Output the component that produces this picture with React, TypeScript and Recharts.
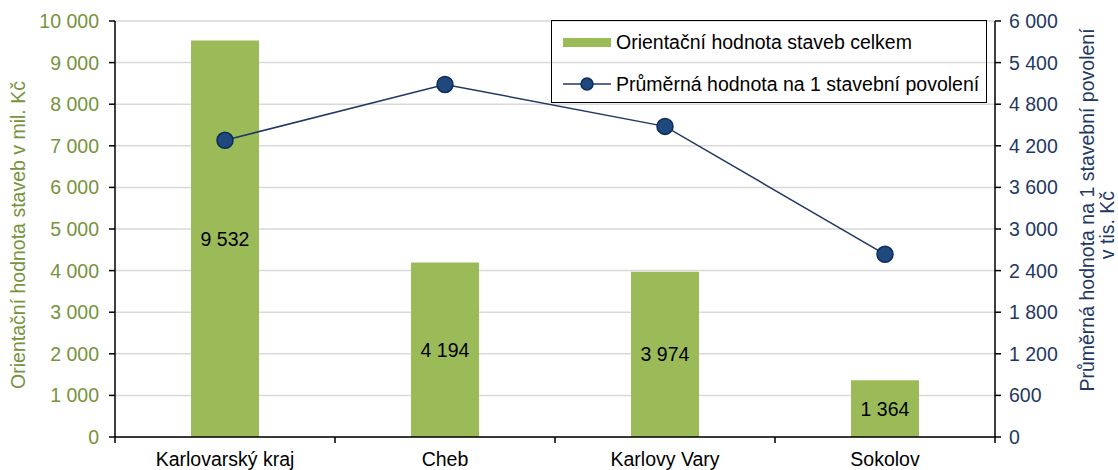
import React from 'react';
import { ComposedChart, Bar, Line, XAxis, YAxis, CartesianGrid, LabelList } from 'recharts';

const categories = ['Karlovarský kraj', 'Cheb', 'Karlovy Vary', 'Sokolov'];
const totalValues = [9532, 4194, 3974, 1364];
const avgValues = [4280, 5085, 4480, 2635];
const leftTicks = [0, 1000, 2000, 3000, 4000, 5000, 6000, 7000, 8000, 9000, 10000];
const rightTicks = [0, 600, 1200, 1800, 2400, 3000, 3600, 4200, 4800, 5400, 6000];

const seriesNames = ['Orientační hodnota staveb celkem', 'Průměrná hodnota na 1 stavební povolení'];
const leftTitle = 'Orientační hodnota staveb v mil. Kč';
const rightTitleLines = ['Průměrná hodnota na 1 stavební povolení', 'v tis. Kč'];

const data = categories.map((c, i) => ({ name: c, total: totalValues[i], avg: avgValues[i] }));

const GREEN = '#9BBB59';
const GREEN_TEXT = '#77933C';
const NAVY = '#1F3864';
const FONT = 'Liberation Sans, Arial, sans-serif';
const FS = 19.5;

const fmt = (v: number) => String(v).replace(/\B(?=(\d{3})+(?!\d))/g, ' ');

const CatTick = (props: any) => {
  const { x, y, payload, index, visibleTicksCount } = props;
  const off = payload.offset || 0;
  const isLast = index === visibleTicksCount - 1;
  return (
    <g>
      <line x1={x - off} x2={x - off} y1={y - 8} y2={y - 2} stroke="#000" strokeWidth={1.5} />
      {isLast && <line x1={x + off} x2={x + off} y1={y - 8} y2={y - 2} stroke="#000" strokeWidth={1.5} />}
      <text x={x} y={y + 21} textAnchor="middle" fontFamily={FONT} fontSize={FS} fill="#000">
        {payload.value}
      </text>
    </g>
  );
};

const LegendBox = () => (
  <div
    style={{
      position: 'absolute',
      left: 551,
      top: 20,
      border: '1.5px solid #000',
      width: 436,
      height: 83,
      boxSizing: 'border-box',
      fontFamily: FONT,
      fontSize: FS,
      color: '#000',
      pointerEvents: 'none',
    }}
  >
    <div style={{ position: 'absolute', left: 11, top: 11, height: 20, display: 'flex', alignItems: 'center' }}>
      <svg width={48} height={20} style={{ display: 'block' }}>
        <rect x={0} y={6} width={48} height={9} fill={GREEN} />
      </svg>
      <span style={{ marginLeft: 5, lineHeight: '20px' }}>{seriesNames[0]}</span>
    </div>
    <div style={{ position: 'absolute', left: 11, top: 53, height: 20, display: 'flex', alignItems: 'center' }}>
      <svg width={48} height={20} style={{ display: 'block' }}>
        <line x1={0} x2={48} y1={10} y2={10} stroke={NAVY} strokeWidth={1.5} />
        <circle cx={24} cy={10} r={6} fill="#1F497D" stroke="#0D2A5C" strokeWidth={1.5} />
      </svg>
      <span style={{ marginLeft: 5, lineHeight: '20px' }}>{seriesNames[1]}</span>
    </div>
  </div>
);

const LeftTitle = () => {
  const cy = 235;
  const cx = 18;
  return (
    <text x={cx} y={cy} transform={`rotate(-90 ${cx} ${cy})`} textAnchor="middle" dominantBaseline="central" fontFamily={FONT} fontSize={FS} fill={GREEN_TEXT}>
      {leftTitle}
    </text>
  );
};

const RightTitle = () => {
  const cx1 = 1087;
  const cy1 = 210;
  const cx2 = 1107;
  const cy2 = 225;
  return (
    <g>
      <text x={cx1} y={cy1} transform={`rotate(-90 ${cx1} ${cy1})`} textAnchor="middle" dominantBaseline="central" fontFamily={FONT} fontSize={FS} fill={NAVY}>
        {rightTitleLines[0]}
      </text>
      <text x={cx2} y={cy2} transform={`rotate(-90 ${cx2} ${cy2})`} textAnchor="middle" dominantBaseline="central" fontFamily={FONT} fontSize={FS} fill={NAVY}>
        {rightTitleLines[1]}
      </text>
    </g>
  );
};

export default function App() {
  return (
    <div style={{ position: 'absolute', left: 0, top: 0, width: 1118, height: 470 }}>
      <ComposedChart width={1118} height={470} data={data} margin={{ top: 21, right: 0, bottom: 0, left: 0 }}>
        <CartesianGrid horizontal vertical={false} stroke="#D9D9D9" strokeWidth={1.5} yAxisId="left" />
        <XAxis
          dataKey="name"
          xAxisId="cat"
          height={33}
          axisLine={{ stroke: '#000', strokeWidth: 1.5 }}
          tickLine={false}
          tick={<CatTick />}
          interval={0}
        />
        <YAxis
          yAxisId="left"
          width={115}
          domain={[0, 10000]}
          ticks={leftTicks}
          tickFormatter={fmt}
          axisLine={{ stroke: '#000', strokeWidth: 1.5 }}
          tickLine={{ stroke: '#000', strokeWidth: 1.5 }}
          tickSize={6}
          tick={{ fill: GREEN_TEXT, fontSize: FS, fontFamily: FONT }}
          tickMargin={10}
          interval={0}
          label={<LeftTitle />}
        />
        <YAxis
          yAxisId="right"
          orientation="right"
          width={123}
          domain={[0, 6000]}
          ticks={rightTicks}
          tickFormatter={fmt}
          axisLine={{ stroke: '#000', strokeWidth: 1.5 }}
          tickLine={{ stroke: '#000', strokeWidth: 1.5 }}
          tickSize={6}
          tick={{ fill: NAVY, fontSize: FS, fontFamily: FONT }}
          tickMargin={8}
          interval={0}
          label={<RightTitle />}
        />
        <Bar dataKey="total" xAxisId="cat" yAxisId="left" fill={GREEN} barSize={68} isAnimationActive={false} name={seriesNames[0]}>
          <LabelList dataKey="total" position="center" formatter={(v: any) => fmt(Number(v))} style={{ fontFamily: FONT, fontSize: FS, fill: '#000' }} />
        </Bar>
        <Line
          dataKey="avg"
          xAxisId="cat"
          yAxisId="right"
          stroke={NAVY}
          strokeWidth={1.5}
          dot={{ r: 8, fill: '#1F497D', stroke: '#0D2A5C', strokeWidth: 1.5 }}
          activeDot={false}
          isAnimationActive={false}
          name={seriesNames[1]}
        />
      </ComposedChart>
      <LegendBox />
    </div>
  );
}
